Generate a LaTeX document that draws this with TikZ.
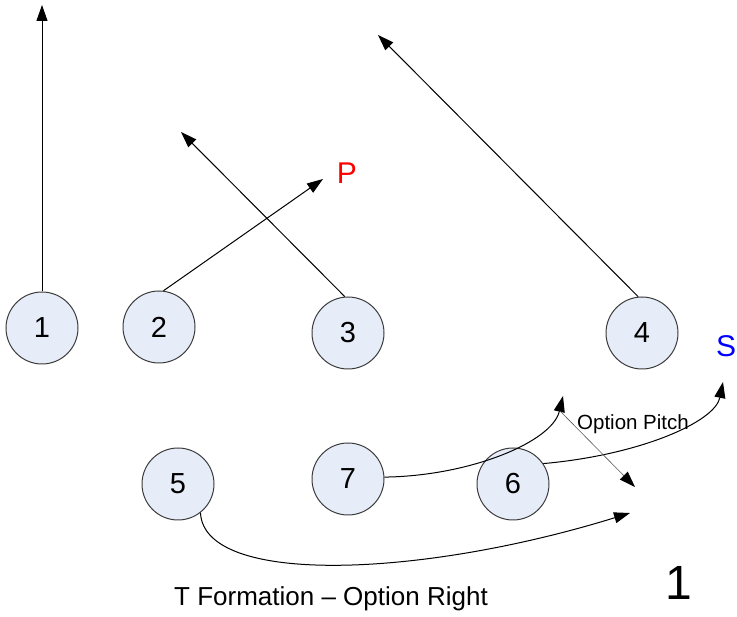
\documentclass[tikz,border=0pt]{standalone}
\usepackage{fontspec}
\setmainfont{Liberation Sans}
\usetikzlibrary{arrows.meta}
\definecolor{playerfill}{RGB}{231,237,248}
\definecolor{playerline}{RGB}{60,60,60}
\begin{document}
\begin{tikzpicture}[x=1pt,y=-1pt,
  player/.style={circle,draw=playerline,line width=1pt,fill=playerfill,minimum size=72pt,inner sep=0pt,font=\fontsize{29}{29}\selectfont},
  route/.style={draw=black,line width=1pt,-{Triangle[length=16pt,width=11pt]}},
  pitch/.style={draw=black!65,line width=0.6pt,-{Triangle[length=16pt,width=11pt,fill=black,color=black]}},
  lbl/.style={inner sep=0pt}]
\useasboundingbox (0,0) rectangle (737,617);
\node[player] (p1) at (42,328) {1};
\node[player] (p2) at (159,327) {2};
\node[player] (p3) at (348,333) {3};
\node[player] (p4) at (642,333) {4};
\node[player] (p5) at (178,484) {5};
\node[player] (p7) at (348,479) {7};
\node[player] (p6) at (513,484) {6};
\coordinate (t1) at (42,5);
\coordinate (t2) at (323,179);
\coordinate (t3) at (181,132);
\coordinate (t4) at (378,35);
\coordinate (t7) at (563,396);
\coordinate (t6) at (723,382);
\coordinate (t5) at (630,513);
\coordinate (ps) at (560,411);
\coordinate (pe) at (635,487);
\draw[route] (p1.90) -- (t1);
\draw[route] (p2.83) -- (t2);
\draw[route] (p3.95) -- (t3);
\draw[route] (p4.96) -- (t4);
\draw[route] (p7.3) .. controls (470,476) and (552,442) .. (t7);
\draw[route] (p6.34) .. controls (640,455) and (715,422) .. (t6);
\draw[route] (p5.-52) .. controls (204,586) and (420,578) .. (t5);
\draw[pitch] (ps) -- (pe);
\node[lbl,text=red,font=\fontsize{30}{30}\selectfont] (P) at (347,173) {P};
\node[lbl,text=blue,font=\fontsize{30}{30}\selectfont] (S) at (726,346) {S};
\node[lbl,font=\fontsize{20.5}{20.5}\selectfont] (op) at (633,424) {Option Pitch};
\node[lbl,font=\fontsize{26}{26}\selectfont] (cap) at (331,599) {T Formation – Option Right};
\node[lbl,font=\fontsize{48}{48}\selectfont] (num) at (679,583) {1};
\end{tikzpicture}
\end{document}
